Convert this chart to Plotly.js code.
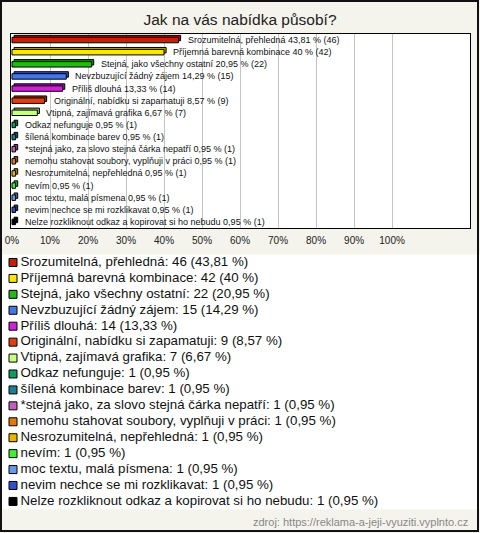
<!DOCTYPE html>
<html><head><meta charset="utf-8">
<script src="https://cdn.plot.ly/plotly-3.0.1.min.js"></script>
<style>html,body{margin:0;padding:0;background:#fff;}#chart{width:480px;height:533px;}</style>
</head><body><div id="chart"></div>
<script>
const categories = [
  "Srozumitelná, přehledná",
  "Příjemná barevná kombinace",
  "Stejná, jako všechny ostatní",
  "Nevzbuzující žádný zájem",
  "Příliš dlouhá",
  "Originální, nabídku si zapamatuji",
  "Vtipná, zajímavá grafika",
  "Odkaz nefunguje",
  "šílená kombinace barev",
  "*stejná jako, za slovo stejná čárka nepatří",
  "nemohu stahovat soubory, vyplňuji v práci",
  "Nesrozumitelná, nepřehledná",
  "nevím",
  "moc textu, malá písmena",
  "nevim nechce se mi rozklikavat",
  "Nelze rozkliknout odkaz a kopirovat si ho nebudu"
];
const counts = [46, 42, 22, 15, 14, 9, 7, 1, 1, 1, 1, 1, 1, 1, 1, 1];
const percents = [43.81, 40, 20.95, 14.29, 13.33, 8.57, 6.67, 0.95, 0.95, 0.95, 0.95, 0.95, 0.95, 0.95, 0.95, 0.95];
const colors = ["#c81e0a", "#fae600", "#1fbb10", "#4477ee", "#cc22d8", "#e04010", "#c8ff80", "#0f9a62",
                "#1f7f90", "#c060c0", "#e07a10", "#e8b400", "#44ee33", "#6699e8", "#3355bb", "#000000"];
const tickVals = [0, 10, 20, 30, 40, 50, 60, 70, 80, 90, 100];
const tickText = ["0%", "10%", "20%", "30%", "40%", "50%", "60%", "70%", "80%", "90%", "100%"];
const title = "Jak na vás nabídka působí?";
const source = "zdroj: https://reklama-a-jeji-vyuziti.vyplnto.cz";

const fmt = v => String(v).replace(".", ",");
function darken(hex, f) {
  const n = parseInt(hex.slice(1), 16);
  const r = Math.round(((n >> 16) & 255) * f), g = Math.round(((n >> 8) & 255) * f), b = Math.round((n & 255) * f);
  return "rgb(" + r + "," + g + "," + b + ")";
}
const idx = categories.map((_, i) => i);
const F = "Liberation Sans, Arial, sans-serif";

const back = {
  type: "bar", orientation: "h", x: percents, y: idx, base: 0.55,
  width: 0.45, offset: -0.39,
  marker: { color: colors.map(c => darken(c, 0.7)), line: { color: "#000", width: 1 } },
  hoverinfo: "skip", showlegend: false, xaxis: "x", yaxis: "y"
};
const front = {
  type: "bar", orientation: "h", x: percents, y: idx,
  width: 0.45, offset: -0.225,
  marker: { color: colors, line: { color: "#000", width: 1 } },
  hoverinfo: "skip", showlegend: false, xaxis: "x", yaxis: "y"
};
const legMarks = {
  type: "scatter", mode: "markers", x: idx.map(() => 13), y: idx,
  marker: { symbol: "square", size: 8, color: colors, line: { color: "#000", width: 1 } },
  hoverinfo: "skip", showlegend: false, xaxis: "x2", yaxis: "y2"
};
const legText = {
  type: "scatter", mode: "text", x: idx.map(() => 20.5), y: idx,
  text: categories.map((c, i) => c + ": " + counts[i] + " (" + fmt(percents[i]) + " %)"),
  textposition: "middle right", textfont: { family: F, size: 13.3, color: "#111" },
  hoverinfo: "skip", showlegend: false, xaxis: "x2", yaxis: "y2", cliponaxis: false
};

const annotations = categories.map((c, i) => ({
  x: percents[i], y: i, xref: "x", yref: "y", xanchor: "left", yanchor: "middle",
  xshift: 7, showarrow: false, text: c + " " + fmt(percents[i]) + " % (" + counts[i] + ")",
  font: { family: F, size: 9, color: "#111" }
}));
annotations.push({
  x: 470 / 480, y: (533 - 522) / 533, xref: "paper", yref: "paper", xanchor: "right", yanchor: "middle",
  showarrow: false, text: source, font: { family: F, size: 11, color: "#888" }
});

const layout = {
  width: 480, height: 533,
  margin: { l: 0, r: 0, t: 0, b: 0 },
  paper_bgcolor: "#f4f3ec", plot_bgcolor: "#ffffff",
  barmode: "overlay",
  title: { text: title, x: 0.5, xanchor: "center", y: (533 - 20) / 533, yanchor: "middle",
           font: { family: F, size: 15.5, color: "#222" } },
  xaxis: {
    domain: [11 / 480, 470 / 480], range: [-0.26, 120.5],
    tickvals: tickVals, ticktext: tickText, tickfont: { family: F, size: 10, color: "#222" },
    ticklabelstandoff: 3,
    showgrid: true, gridcolor: "#c4c4c4", gridwidth: 1, zeroline: false,
    showline: true, linecolor: "#000", linewidth: 1, mirror: true, ticks: "", fixedrange: true
  },
  yaxis: {
    domain: [(533 - 228) / 533, (533 - 34) / 533], range: [15.5, -0.5],
    showticklabels: false, showgrid: false, zeroline: false,
    showline: true, linecolor: "#000", linewidth: 1, mirror: true, ticks: "", fixedrange: true
  },
  xaxis2: { domain: [0, 1], range: [0, 480], visible: false, fixedrange: true },
  yaxis2: { domain: [0.0443, 0.5225], range: [15.5, -0.5], visible: false, fixedrange: true },
  shapes: [{ type: "rect", xref: "paper", yref: "paper", x0: 1 / 480, x1: 478 / 480, y0: 2 / 533, y1: 532 / 533,
             line: { color: "#111", width: 2 }, fillcolor: "rgba(0,0,0,0)", layer: "above" }],
  annotations: annotations
};

Plotly.newPlot("chart", [back, front, legMarks, legText], layout, { staticPlot: true, displayModeBar: false });
</script></body></html>
